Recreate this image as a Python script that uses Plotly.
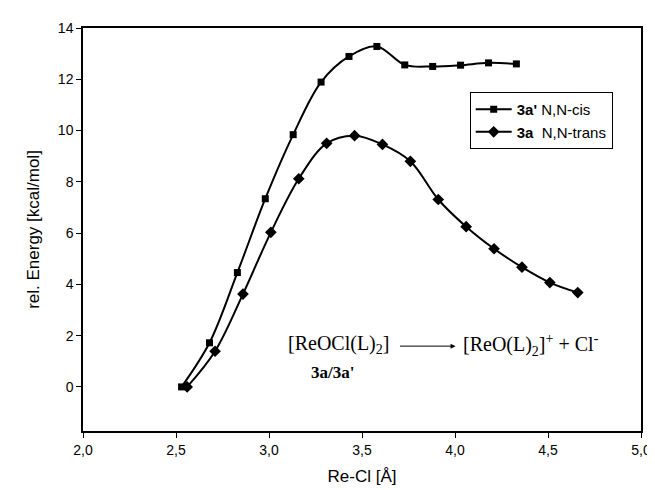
import plotly.graph_objects as go

# 3a' N,N-cis (squares)
cis_x = [2.53, 2.68, 2.83, 2.98, 3.13, 3.28, 3.43, 3.58, 3.73, 3.88, 4.03, 4.18, 4.33]
cis_y = [0.0, 1.72, 4.46, 7.34, 9.84, 11.89, 12.89, 13.28, 12.56, 12.50, 12.55, 12.64, 12.60]

# 3a N,N-trans (diamonds)
trans_x = [2.56, 2.71, 2.86, 3.01, 3.16, 3.31, 3.46, 3.61, 3.76, 3.91, 4.06, 4.21, 4.36, 4.51, 4.66]
trans_y = [0.0, 1.39, 3.62, 6.03, 8.12, 9.50, 9.80, 9.46, 8.80, 7.31, 6.25, 5.39, 4.67, 4.07, 3.68]

x_ticks = [2.0, 2.5, 3.0, 3.5, 4.0, 4.5, 5.0]
y_ticks = [0, 2, 4, 6, 8, 10, 12, 14]

fig = go.Figure()
fig.add_trace(go.Scatter(
    x=cis_x, y=cis_y, mode="lines+markers",
    name="<b>3a'</b> N,N-cis",
    line=dict(color="black", width=2, shape="spline", smoothing=1),
    marker=dict(symbol="square", size=7, color="black"),
))
fig.add_trace(go.Scatter(
    x=trans_x, y=trans_y, mode="lines+markers",
    name="<b>3a</b>  N,N-trans",
    line=dict(color="black", width=2, shape="spline", smoothing=1),
    marker=dict(symbol="diamond", size=9, color="black"),
))

serif = "Liberation Serif"
fig.add_annotation(x=3.372, y=1.645, xref="x", yref="y", showarrow=False,
                   text="[ReOCl(L)<sub>2</sub>]", font=dict(family=serif, size=20, color="black"))
fig.add_annotation(x=4.409, y=1.645, xref="x", yref="y", showarrow=False,
                   text="[ReO(L)<sub>2</sub>]<sup>+</sup> + Cl<sup>-</sup>",
                   font=dict(family=serif, size=20, color="black"))
fig.add_annotation(x=3.339, y=0.58, xref="x", yref="y", showarrow=False,
                   text="<b>3a/3a'</b>", font=dict(family=serif, size=17, color="black"))
fig.add_annotation(x=4.003, y=1.59, ax=3.696, ay=1.59, xref="x", yref="y",
                   axref="x", ayref="y", text="", showarrow=True,
                   arrowhead=2, arrowsize=1, arrowwidth=1, arrowcolor="black")

fig.update_layout(
    width=655, height=490,
    margin=dict(l=74.5, r=14, t=19, b=67),
    paper_bgcolor="white", plot_bgcolor="white",
    separators=",.",
    font=dict(family="Liberation Sans, Arial", size=14, color="black"),
    showlegend=True,
    legend=dict(x=0.693, y=0.841, xanchor="left", yanchor="top",
                bordercolor="black", borderwidth=1, bgcolor="white",
                font=dict(size=15), tracegroupgap=0, itemwidth=36),
    xaxis=dict(range=[2.0, 5.0], tickvals=x_ticks, tickformat=".1f",
               ticks="outside", ticklen=5, tickcolor="black",
               showline=True, linecolor="black", linewidth=1.5, mirror=True,
               showgrid=False, zeroline=False,
               title=dict(text="Re-Cl [Å]", font=dict(size=17), standoff=14)),
    yaxis=dict(range=[-1.72, 14], tickvals=y_ticks,
               ticks="outside", ticklen=5, tickcolor="black",
               showline=True, linecolor="black", linewidth=1.5, mirror=True,
               showgrid=False, zeroline=False,
               title=dict(text="rel. Energy [kcal/mol]", font=dict(size=17), standoff=14)),
)

fig.write_html("out.html")
